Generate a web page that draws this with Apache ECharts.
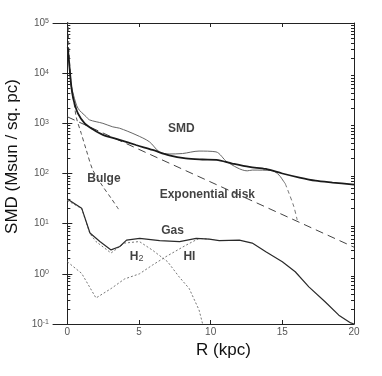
<!DOCTYPE html>
<html>
<head>
<meta charset="utf-8">
<script src="https://cdn.jsdelivr.net/npm/echarts@6.0.0/dist/echarts.min.js"></script>
<style>
  html, body { margin: 0; padding: 0; background: #fff; }
  #chart { width: 382px; height: 376px; }
</style>
</head>
<body>
<div id="chart"></div>
<script>
// [R (kpc), surface mass density (Msun / pc^2)]
const smdTotal = [
  [0.03, 33000], [0.17, 11500], [0.28, 5400], [0.44, 2900], [0.74, 1580],
  [1.21, 1000], [1.78, 760], [2.48, 590], [3.64, 470], [4.79, 370],
  [5.95, 295], [7.11, 230], [8.26, 200], [9.42, 190], [10.4, 186],
  [11.5, 158], [12.7, 135], [13.85, 123], [15.0, 100], [16.2, 83],
  [17.3, 72], [18.5, 66], [20, 60]
];
const smdObserved = [
  [0.03, 33000], [0.17, 11500], [0.28, 5600], [0.44, 3600], [0.74, 2000],
  [1.32, 1350], [1.55, 1170], [2.48, 1000], [3.17, 850], [3.64, 800],
  [4.79, 590], [5.72, 430], [6.42, 270], [7.11, 245], [8.03, 250],
  [9.19, 280], [10.37, 270], [11.15, 170], [12.55, 113], [12.9, 117],
  [14.3, 114], [14.77, 93], [15.1, 69], [15.2, 63]
];
const smdObservedDrop = [[15.2, 63], [15.47, 40], [15.8, 22], [16.04, 11.8]];
const bulge = [
  [0.05, 115000], [0.12, 25700], [0.28, 5250], [0.44, 2880], [0.63, 1300],
  [0.97, 630], [1.32, 295], [1.78, 117], [2.48, 55], [3.06, 32], [3.57, 19.5]
];
const expDisk = [[0, 1350], [20, 3.4]];
const gas = [
  [0.0, 31], [1.0, 20.4], [1.58, 6.5], [2.27, 4.4], [3.05, 3.0], [3.66, 3.5],
  [4.13, 4.7], [5.05, 5.1], [6.44, 4.6], [7.83, 4.4], [8.99, 5.1], [9.9, 4.9],
  [10.6, 4.6], [12.0, 4.7], [12.9, 4.1], [13.85, 2.75], [15.0, 1.74],
  [15.9, 1.1], [16.85, 0.55], [18.0, 0.275], [18.94, 0.15], [19.77, 0.105], [20, 0.1]
];
const h2 = [
  [0.0, 29], [1.0, 20], [1.58, 6.3], [2.0, 4.4], [3.05, 2.6], [3.99, 4.1],
  [5.03, 4.4], [5.95, 2.95], [7.0, 1.74], [7.8, 0.87], [8.5, 0.51],
  [9.19, 0.19], [9.44, 0.1]
];
const hi = [
  [0.0, 1.74], [1.0, 1.02], [2.0, 0.33], [3.06, 0.51], [3.99, 0.79],
  [5.03, 1.0], [5.95, 1.5], [6.88, 2.2], [8.26, 3.7], [9.19, 5.1], [9.9, 4.9]
];

// in-plot annotations
const noteNames = ['SMD', 'Bulge', 'Exponential disk', 'Gas', 'H2', 'HI'];
const noteX = [7.96, 2.55, 9.77, 7.34, 4.84, 8.52];
const noteY = [770, 78, 37, 7.1, 2.2, 2.2];

// axis ticks
const xTicks = [0, 5, 10, 15, 20];
const yDecades = [0.1, 1, 10, 100, 1000, 10000, 100000];

const yMinor = [];
for (let n = -1; n < 5; n++) {
  for (let k = 2; k <= 9; k++) yMinor.push(+(k * Math.pow(10, n)).toPrecision(3));
}

const chart = echarts.init(document.getElementById('chart'));
const font = 'Liberation Sans, Arial, sans-serif';
const axisColor = '#222';
const gridBox = { left: 53, right: 28, top: 23, bottom: 52, containLabel: false, outerBoundsMode: 'none' };

function yAxisBase(position, gridIndex, ticks, len) {
  return {
    type: 'log',
    logBase: 10,
    min: 0.1,
    max: 100000,
    gridIndex: gridIndex,
    position: position,
    axisLine: { show: true, lineStyle: { color: axisColor, width: 1 } },
    splitLine: { show: false },
    axisLabel: { show: false },
    axisTick: { show: true, inside: true, length: len, customValues: ticks, lineStyle: { color: axisColor } }
  };
}

const leftMajor = yAxisBase('left', 0, yDecades, 5);
leftMajor.name = 'SMD (Msun / sq. pc)';
leftMajor.nameLocation = 'middle';
leftMajor.nameGap = 28;
leftMajor.nameTextStyle = { fontFamily: font, fontSize: 17, color: '#111', padding: [0, 0, 0, 34] };
leftMajor.axisLabel = {
  show: true,
  customValues: yDecades,
  margin: 4,
  formatter: v => '{b|10}{e|' + Math.round(Math.log10(v)) + '}',
  rich: {
    b: { fontFamily: font, fontSize: 10, color: '#555', lineHeight: 10, verticalAlign: 'middle' },
    e: { fontFamily: font, fontSize: 7, color: '#555', lineHeight: 7, verticalAlign: 'top' }
  }
};
const rightMajor = yAxisBase('right', 0, yDecades, 5);
const leftMinor = yAxisBase('left', 1, yMinor, 3);
const rightMinor = yAxisBase('right', 1, yMinor, 3);

function xAxisBase(position, gridIndex) {
  return {
    type: 'value',
    min: -1,
    max: 20,
    gridIndex: gridIndex,
    position: position,
    axisLine: { show: true, onZero: false, lineStyle: { color: axisColor, width: 1 } },
    splitLine: { show: false },
    axisLabel: { show: false },
    axisTick: { show: true, inside: true, length: 4, customValues: xTicks, lineStyle: { color: axisColor } }
  };
}
const xBottom = xAxisBase('bottom', 0);
xBottom.name = 'R (kpc)';
xBottom.nameLocation = 'middle';
xBottom.nameGap = 17;
xBottom.nameTextStyle = { fontFamily: font, fontSize: 17, color: '#111', padding: [0, 0, 0, 40] };
xBottom.axisLabel = { show: true, customValues: xTicks, margin: 3, fontFamily: font, fontSize: 10, color: '#555' };
const xTop = xAxisBase('top', 0);
const xHidden = { type: 'value', min: -1, max: 20, gridIndex: 1, show: false };

function line(data, color, width, type, smooth) {
  return {
    type: 'line',
    data: data,
    xAxisIndex: 0,
    yAxisIndex: 0,
    showSymbol: false,
    symbol: 'none',
    smooth: smooth,
    clip: true,
    lineStyle: { color: color, width: width, type: type },
    silent: true
  };
}

const option = {
  animation: false,
  backgroundColor: '#fff',
  grid: [gridBox, Object.assign({}, gridBox)],
  xAxis: [xBottom, xTop, xHidden],
  yAxis: [leftMajor, rightMajor, leftMinor, rightMinor],
  series: [
    line(expDisk, '#444', 1, [8, 5], false),
    line(bulge, '#555', 1, [4, 3], 0.3),
    line(smdObserved, '#666', 1, 'solid', 0.3),
    line(smdObservedDrop, '#777', 1, [4, 3], 0.3),
    line(smdTotal, '#1a1a1a', 1.8, 'solid', 0.3),
    line(hi, '#777', 1, [2, 2], false),
    line(h2, '#777', 1, [2, 2], false),
    line(gas, '#2a2a2a', 1.2, 'solid', false),
    {
      type: 'scatter',
      xAxisIndex: 0,
      yAxisIndex: 0,
      silent: true,
      symbolSize: 1,
      itemStyle: { color: 'rgba(0,0,0,0)' },
      data: noteNames.map((n, i) => ({ name: n, value: [noteX[i], noteY[i]] })),
      label: {
        show: true,
        position: 'inside',
        fontFamily: font,
        fontSize: 12,
        fontWeight: 'bold',
        color: '#111',
        formatter: p => (p.name === 'H2' ? 'H{s|2}' : p.name),
        rich: {
          s: { fontFamily: font, fontSize: 9, fontWeight: 'normal', color: '#111', verticalAlign: 'bottom' }
        }
      }
    }
  ]
};

chart.setOption(option);
</script>
</body>
</html>
